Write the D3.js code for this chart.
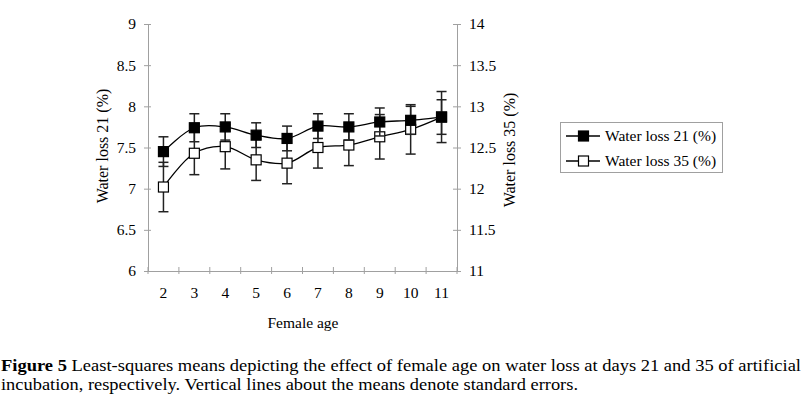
<!DOCTYPE html>
<html><head><meta charset="utf-8">
<script src="https://cdn.jsdelivr.net/npm/d3@7"></script>
<style>body{margin:0;background:#fff}svg{display:block;font-family:"Liberation Serif","Times New Roman",serif}</style>
</head><body><svg id="c" width="803" height="398"></svg>
<script>
const ages = ["2","3","4","5","6","7","8","9","10","11"];
const loss21 = [7.45,7.74,7.75,7.65,7.61,7.76,7.75,7.81,7.83,7.87];
const se21   = [0.18,0.17,0.16,0.15,0.15,0.15,0.16,0.17,0.17,0.21];
const loss35 = [12.02,12.43,12.51,12.35,12.31,12.50,12.53,12.63,12.72,12.87];
const se35   = [0.30,0.26,0.27,0.25,0.25,0.25,0.25,0.27,0.30,0.31];
const leftTicks = [6,6.5,7,7.5,8,8.5,9];
const rightTicks = [11,11.5,12,12.5,13,13.5,14];

const svg = d3.select("#c");
const L=148,R=457,T=24,B=271;
const x = d3.scaleBand().domain(ages).range([L,R]);
const yL = d3.scaleLinear().domain([6,9]).range([B,T]);
const yR = d3.scaleLinear().domain([11,14]).range([B,T]);
const grey="#a0a0a0";

const la = svg.append("g").attr("transform",`translate(${L},0)`).call(d3.axisLeft(yL).tickValues(leftTicks).tickFormat(d3.format("")).tickSize(4).tickPadding(8));
const ra = svg.append("g").attr("transform",`translate(${R},0)`).call(d3.axisRight(yR).tickValues(rightTicks).tickFormat(d3.format("")).tickSize(4).tickPadding(8));
const xa = svg.append("g").attr("transform",`translate(0,${B})`).call(d3.axisBottom(x).tickSize(0).tickPadding(16));
[la,ra,xa].forEach(g=>{
  g.select(".domain").attr("stroke",grey);
  g.selectAll(".tick line").attr("stroke",grey);
  g.selectAll("text").attr("font-family","Liberation Serif").attr("font-size",15.5).attr("fill","#000");
});
la.selectAll(".tick line").attr("x1",3);
ra.selectAll(".tick line").attr("x1",-4);
const bounds = ages.map(a=>x(a)).concat([R]);
svg.append("g").selectAll("line").data(bounds).join("line")
  .attr("x1",d=>d).attr("x2",d=>d).attr("y1",B-4).attr("y2",B+3).attr("stroke",grey);

const cx = a=>x(a)+x.bandwidth()/2;
const curve = d3.curveCatmullRom.alpha(0.5);

function series(vals,ses,y,fill){
  const g=svg.append("g");
  vals.forEach((v,i)=>{
    const X=cx(ages[i]);
    const eb=g.append("g").attr("stroke","#222").attr("stroke-width",1.5);
    eb.append("line").attr("x1",X).attr("x2",X).attr("y1",y(v+ses[i])).attr("y2",y(v-ses[i]));
    [v+ses[i],v-ses[i]].forEach(e=>eb.append("line").attr("x1",X-5).attr("x2",X+5).attr("y1",y(e)).attr("y2",y(e)));
  });
  g.append("path").datum(vals).attr("fill","none").attr("stroke","#000").attr("stroke-width",1.3)
    .attr("d",d3.line().x((d,i)=>cx(ages[i])).y(d=>y(d)).curve(curve));
  g.selectAll("rect").data(vals).join("rect")
    .attr("x",(d,i)=>cx(ages[i])-5).attr("y",d=>y(d)-5).attr("width",10).attr("height",10)
    .attr("fill",fill).attr("stroke","#000").attr("stroke-width",1.2);
}
series(loss35,se35,yR,"#fff");
series(loss21,se21,yL,"#000");

svg.append("text").attr("transform","translate(108,146) rotate(-90)").attr("text-anchor","middle")
  .attr("font-size",16).text("Water loss 21 (%)");
svg.append("text").attr("transform","translate(515,150) rotate(-90)").attr("text-anchor","middle")
  .attr("font-size",16).text("Water loss 35 (%)");
svg.append("text").attr("x",303).attr("y",328).attr("text-anchor","middle").attr("font-size",15.5).text("Female age");

const lg = svg.append("g");
lg.append("rect").attr("x",560.5).attr("y",122.5).attr("width",162).attr("height",50).attr("fill","#fff").attr("stroke",grey);
[["Water loss 21 (%)","#000",136],["Water loss 35 (%)","#fff",161]].forEach(([t,f,yy])=>{
  lg.append("line").attr("x1",566).attr("x2",600).attr("y1",yy).attr("y2",yy).attr("stroke","#000").attr("stroke-width",1.3);
  lg.append("rect").attr("x",578.5).attr("y",yy-5).attr("width",10).attr("height",10).attr("fill",f).attr("stroke","#000").attr("stroke-width",1.2);
  lg.append("text").attr("x",605).attr("y",yy+5).attr("font-size",15.5).text(t);
});

const cap = svg.append("text").attr("x",1).attr("y",371).attr("font-size",16.5)
  .attr("textLength",800).attr("lengthAdjust","spacingAndGlyphs");
cap.append("tspan").attr("font-weight","bold").text("Figure 5");
cap.append("tspan").text(" Least-squares means depicting the effect of female age on water loss at days 21 and 35 of artificial");
svg.append("text").attr("x",1).attr("y",390).attr("font-size",16.5)
  .attr("textLength",577).attr("lengthAdjust","spacingAndGlyphs")
  .text("incubation, respectively. Vertical lines about the means denote standard errors.");
</script></body></html>
